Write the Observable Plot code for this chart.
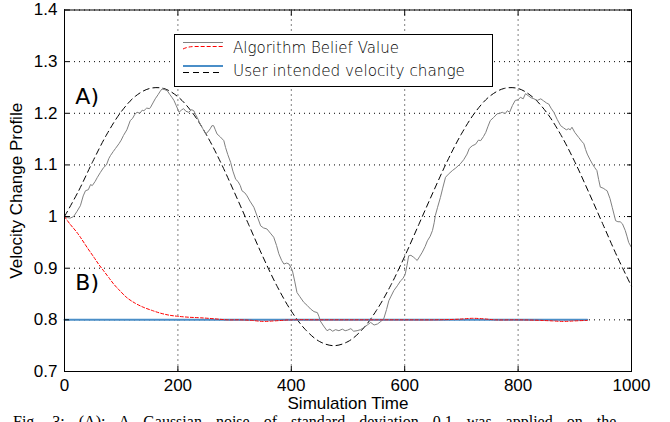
<!DOCTYPE html>
<html><head><meta charset="utf-8">
<script src="https://cdn.jsdelivr.net/npm/d3@7"></script>
<script src="https://cdn.jsdelivr.net/npm/@observablehq/plot@0.6"></script>
<style>
html,body{margin:0;padding:0;background:#fff;overflow:hidden;width:670px;height:422px}
#chart svg{display:block}
#caption{font-family:"Liberation Serif","Times New Roman",serif;font-size:16px;white-space:nowrap;margin:0 0 0 13px;line-height:15px;word-spacing:10px}
</style></head><body>
<div id="chart"></div>
<div id="caption">Fig. 3: (A): A Gaussian noise of standard deviation 0.1 was applied on the</div>
<script>
// ---- tick values / labels
const xTicks = [0, 200, 400, 600, 800, 1000];
const xTickLabels = ["0", "200", "400", "600", "800", "1000"];
const yTicks = [0.7, 0.8, 0.9, 1.0, 1.1, 1.2, 1.3, 1.4];
const yTickLabels = ["0.7", "0.8", "0.9", "1", "1.1", "1.2", "1.3", "1.4"];

// ---- A) user intended velocity change (black dashed)
const userT = [0,25,50,75,100,125,150,175,200,225,250,275,300,325,350,375,400,425,450,475,500,525,550,575,600,625,650,675,700,725,750,775,800,825,850,875,900,925,950,975,1000];
const userV = [1.000,1.050,1.107,1.160,1.203,1.233,1.248,1.248,1.232,1.202,1.159,1.106,1.046,0.984,0.922,0.865,0.817,0.781,0.758,0.750,0.758,0.781,0.818,0.866,0.923,0.985,1.047,1.107,1.160,1.203,1.233,1.248,1.248,1.232,1.202,1.159,1.106,1.046,0.984,0.922,0.865];

// ---- A) algorithm belief value (grey noisy)
const beliefT = [0,5,10,16,22,28,33,37,42,46,49,54,58,63,69,74,78,81,86,90,96,100,104,110,116,120,124,128,133,137,140,145,150,152,156,160,165,169,172,176,181,186,190,193,197,202,206,210,214,219,224,228,231,234,239,244,249,253,257,260,263,266,269,275,281,284,288,293,297,302,306,310,313,318,322,327,334,340,346,351,357,363,369,374,378,383,387,392,396,400,402,406,410,415,422,428,434,440,446,449,451,457,463,468,473,478,484,490,495,499,505,510,516,522,528,534,540,546,552,558,563,568,572,576,581,587,593,597,601,604,607,611,616,619,622,626,631,636,640,645,649,652,654,658,663,667,672,677,684,690,698,704,710,714,719,725,730,734,739,743,747,751,757,763,768,772,777,781,785,790,795,800,804,809,813,818,823,828,834,840,845,850,854,858,863,869,875,880,885,889,892,895,900,907,912,916,919,922,927,931,935,939,942,945,950,954,957,962,966,969,972,976,980,984,989,992,995,1000];
const beliefV = [1.000,0.998,0.997,1.000,1.010,1.021,1.040,1.050,1.052,1.062,1.060,1.068,1.076,1.085,1.095,1.100,1.112,1.118,1.126,1.132,1.141,1.148,1.157,1.168,1.186,1.190,1.198,1.202,1.200,1.206,1.205,1.210,1.209,1.212,1.220,1.228,1.236,1.243,1.247,1.246,1.244,1.236,1.230,1.225,1.215,1.202,1.206,1.209,1.204,1.202,1.207,1.205,1.198,1.192,1.180,1.170,1.160,1.164,1.170,1.176,1.176,1.168,1.160,1.154,1.147,1.134,1.120,1.105,1.088,1.072,1.068,1.060,1.050,1.046,1.040,1.030,1.018,1.000,0.982,0.978,0.976,0.968,0.960,0.944,0.928,0.915,0.908,0.910,0.908,0.900,0.895,0.875,0.853,0.845,0.834,0.828,0.821,0.816,0.814,0.806,0.798,0.788,0.779,0.782,0.778,0.781,0.779,0.782,0.779,0.780,0.783,0.778,0.779,0.781,0.785,0.790,0.795,0.790,0.792,0.797,0.802,0.820,0.837,0.846,0.857,0.866,0.876,0.880,0.889,0.905,0.924,0.925,0.921,0.918,0.915,0.922,0.931,0.942,0.953,0.962,0.973,0.988,1.002,1.018,1.037,1.055,1.076,1.082,1.089,1.094,1.102,1.110,1.121,1.132,1.137,1.140,1.148,1.147,1.155,1.163,1.175,1.186,1.192,1.199,1.200,1.202,1.199,1.205,1.202,1.215,1.225,1.226,1.231,1.228,1.238,1.234,1.230,1.228,1.225,1.228,1.224,1.220,1.218,1.210,1.202,1.188,1.176,1.172,1.168,1.170,1.168,1.173,1.163,1.153,1.146,1.141,1.130,1.121,1.110,1.102,1.095,1.089,1.072,1.057,1.055,1.052,1.050,1.035,1.018,1.005,0.992,0.990,0.990,0.986,0.973,0.962,0.950,0.940];

// ---- B) algorithm belief value (red dashed)
const redT = [0,10,20,28,40,52,60,69,78,87,98,110,125,140,155,169,185,199,220,240,265,287,310,330,350,370,400,450,500,550,600,650,690,705,720,739,760,800,840,860,880,900,922];
const redV = [1.000,0.985,0.972,0.960,0.940,0.921,0.908,0.895,0.882,0.869,0.856,0.843,0.832,0.824,0.818,0.813,0.809,0.807,0.805,0.804,0.802,0.800,0.800,0.799,0.797,0.798,0.800,0.800,0.800,0.800,0.800,0.800,0.801,0.802,0.803,0.802,0.800,0.800,0.799,0.798,0.797,0.798,0.799];

// ---- B) user intended velocity change (blue)
const blueT = [0, 922];
const blueV = [0.8, 0.8];

// ---- annotations
const annoText = ["A)", "B)"];
const annoT = [40, 40];
const annoV = [1.232, 0.871];

const legendLabels = ["Algorithm Belief Value", "User intended velocity change"];

const zip = (ts, vs) => ts.map((t, i) => ({t, v: vs[i]}));
const userData = zip(userT, userV);
const beliefData = zip(beliefT, beliefV);
const redData = zip(redT, redV);
const blueData = zip(blueT, blueV);
const annoData = annoText.map((s, i) => ({s, t: annoT[i], v: annoV[i]}));

const sansFont = "'Liberation Sans', Arial, Helvetica, sans-serif";
const thinFont = "'DejaVu Sans ExtraLight', 'DejaVu Sans Light', 'DejaVu Sans', sans-serif";

const chart = Plot.plot({
  width: 670,
  height: 414,
  marginLeft: 64,
  marginRight: 39,
  marginTop: 9.5,
  marginBottom: 43,
  style: {fontFamily: sansFont, fontSize: "17px", color: "black", background: "white"},
  x: {domain: [0, 1000]},
  y: {domain: [0.7, 1.4]},
  marks: [
    Plot.gridX(xTicks, {stroke: "black", strokeOpacity: 1, strokeDasharray: "1,4"}),
    Plot.gridY(yTicks, {stroke: "black", strokeOpacity: 1, strokeDasharray: "1,4"}),
    Plot.line(userData, {x: "t", y: "v", stroke: "black", strokeWidth: 1, strokeDasharray: "6,4", curve: "catmull-rom"}),
    Plot.line(beliefData, {x: "t", y: "v", stroke: "#808080", strokeWidth: 1}),
    Plot.line(blueData, {x: "t", y: "v", stroke: "#4a8ec8", strokeWidth: 2}),
    Plot.line(redData, {x: "t", y: "v", stroke: "#ff0000", strokeWidth: 1, strokeDasharray: "3,2", curve: "catmull-rom"}),
    Plot.text(annoData, {x: "t", y: "v", text: "s", fontFamily: "'DejaVu Sans', sans-serif", fontWeight: 400, fontSize: 22, fill: "black"}),
    Plot.frame({stroke: "black"}),
    Plot.axisX(xTicks, {anchor: "bottom", tickSize: 0, tickPadding: 7, tickFormat: (d) => xTickLabels[xTicks.indexOf(d)], label: "Simulation Time", labelAnchor: "center", labelOffset: 37, labelArrow: "none"}),
    Plot.axisX(xTicks, {anchor: "bottom", tickSize: -5, text: null, label: null}),
    Plot.axisX(xTicks, {anchor: "top", tickSize: -5, text: null, label: null}),
    Plot.axisY(yTicks, {anchor: "left", tickSize: 0, tickPadding: 7, tickFormat: (d) => yTickLabels[yTicks.indexOf(d)], label: "Velocity Change Profile", labelAnchor: "center", labelOffset: 55, labelArrow: "none"}),
    Plot.axisY(yTicks, {anchor: "left", tickSize: -5, text: null, label: null}),
    Plot.axisY(yTicks, {anchor: "right", tickSize: -5, text: null, label: null})
  ]
});
document.getElementById("chart").appendChild(chart);

// ---- legend box (inside the plot area, top)
const svg = d3.select(chart);
const lg = svg.append("g").attr("class", "legend").attr("text-anchor", "start");
lg.append("rect").attr("x", 174.5).attr("y", 34.5).attr("width", 318).attr("height", 52)
  .attr("fill", "white").attr("stroke", "black").attr("stroke-width", 1);
lg.append("line").attr("x1", 183).attr("x2", 223).attr("y1", 42.5).attr("y2", 42.5).attr("stroke", "#808080");
lg.append("path").attr("d", "M183,49 Q188,46.5 195,46.5 L223,46.5").attr("fill", "none").attr("stroke", "#ff0000").attr("stroke-dasharray", "4,2");
lg.append("line").attr("x1", 183).attr("x2", 223).attr("y1", 66).attr("y2", 66).attr("stroke", "#4a8ec8").attr("stroke-width", 2);
lg.append("line").attr("x1", 183).attr("x2", 223).attr("y1", 72.5).attr("y2", 72.5).attr("stroke", "black").attr("stroke-dasharray", "6,4");
const lgText = [[legendLabels[0], 53, 166], [legendLabels[1], 76, 232]];
lgText.forEach(([s, yb, w]) => {
  lg.append("text").attr("x", 233).attr("y", yb).attr("text-anchor", "start")
    .attr("textLength", w).attr("lengthAdjust", "spacingAndGlyphs")
    .attr("font-family", thinFont).attr("font-weight", 200).attr("font-size", 16).attr("fill", "black").text(s);
});
</script></body></html>
